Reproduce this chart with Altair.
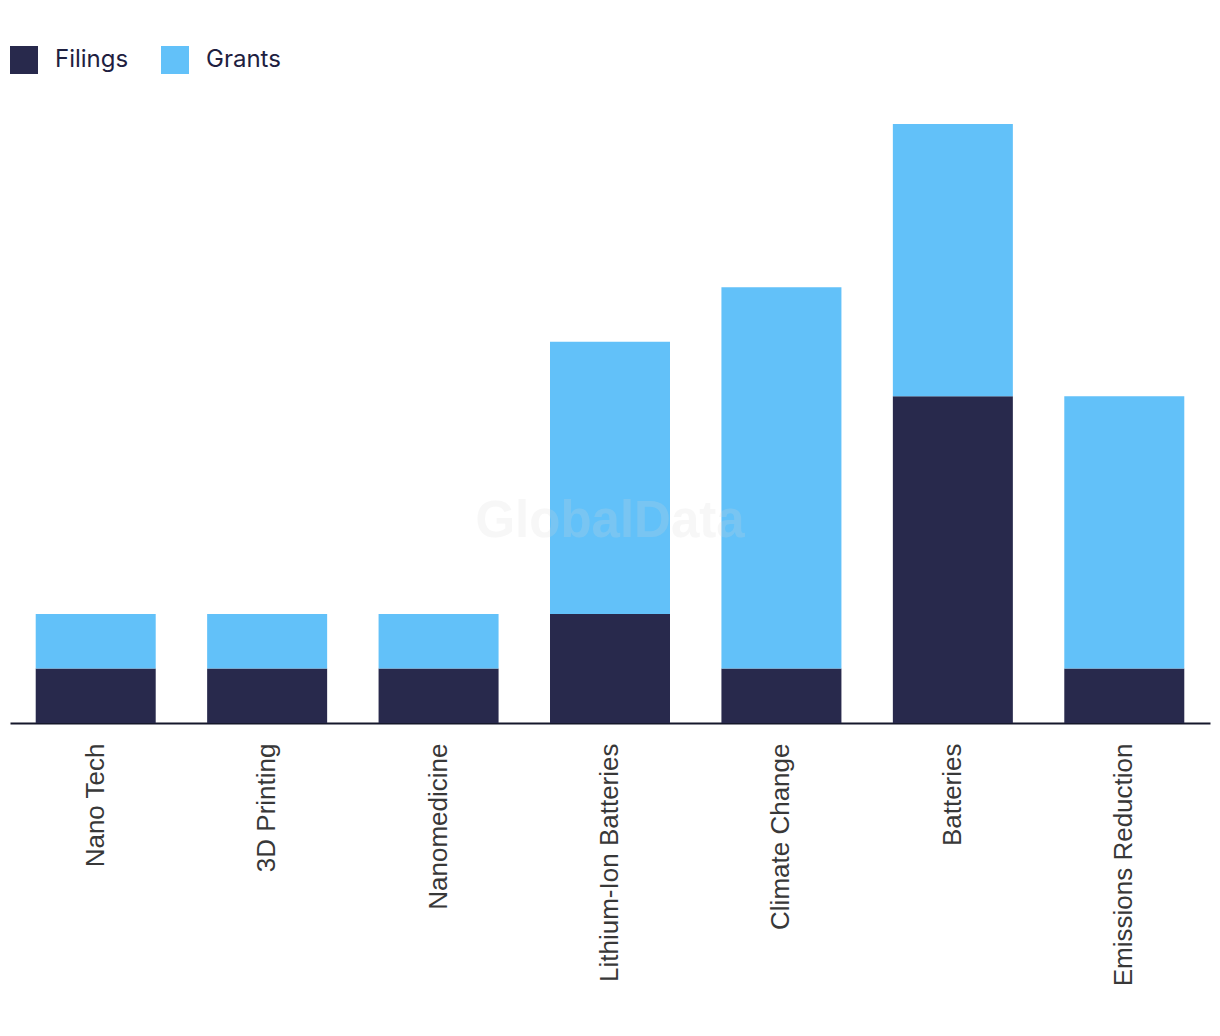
import altair as alt
import pandas as pd

categories = ["Nano Tech", "3D Printing", "Nanomedicine", "Lithium-Ion Batteries",
              "Climate Change", "Batteries", "Emissions Reduction"]
filings = [1, 1, 1, 2, 1, 6, 1]
grants = [1, 1, 1, 5, 7, 5, 5]
series = ["Filings", "Grants"]
colors = ["#28294c", "#62c1f9"]

rows = []
for c, f, g in zip(categories, filings, grants):
    rows.append({"category": c, "series": "Filings", "value": f, "ord": 0})
    rows.append({"category": c, "series": "Grants", "value": g, "ord": 1})
df = pd.DataFrame(rows)

bars = alt.Chart(df).mark_bar().encode(
    x=alt.X("category:N", sort=categories, title=None,
            scale=alt.Scale(paddingInner=0.3, paddingOuter=0.15),
            axis=alt.Axis(labelAngle=-90, labelAlign="right", labelBaseline="middle",
                          labelFont="Liberation Sans", labelFontSize=26,
                          labelColor="#383838", labelPadding=20, ticks=False,
                          labelLimit=0,
                          domainColor="#15172b", domainWidth=2, grid=False)),
    y=alt.Y("value:Q", stack="zero", title=None,
            scale=alt.Scale(domain=[0, 11], nice=False),
            axis=None),
    color=alt.Color("series:N", sort=series,
                    scale=alt.Scale(domain=series, range=colors),
                    legend=alt.Legend(title=None, orient="none", legendX=0, legendY=-78,
                                      direction="horizontal", symbolType="square",
                                      symbolSize=784, symbolStrokeWidth=0,
                                      symbolOpacity=1,
                                      labelFont="Inter", labelFontSize=24,
                                      labelColor="#1e2040", labelOffset=17,
                                      columnPadding=32)),
    order=alt.Order("ord:Q", sort="ascending"),
)

watermark = alt.Chart(pd.DataFrame({"t": ["GlobalData"]})).mark_text(
    font="Liberation Sans", fontWeight="bold", fontSize=51,
    color="#d8d8d8", opacity=0.2, align="center", baseline="middle"
).encode(text="t:N", x=alt.value(600), y=alt.value(398))

chart = alt.layer(bars, watermark).properties(
    width=1200, height=599,
    autosize=alt.AutoSizeParams(type="none"),
    padding={"left": 2, "top": 116, "right": 2, "bottom": 300},
).configure_view(stroke=None)

chart.save("out.html", embed_options={"renderer": "svg", "actions": False})
